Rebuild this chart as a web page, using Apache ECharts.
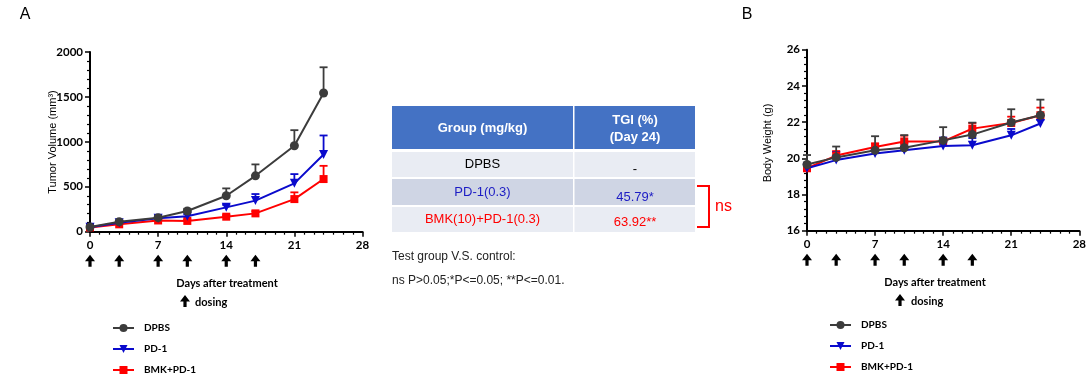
<!DOCTYPE html>
<html>
<head>
<meta charset="utf-8">
<script src="https://cdn.jsdelivr.net/npm/echarts@6/dist/echarts.min.js"></script>
<style>
html,body{margin:0;padding:0;background:#fff;}
#chart{width:1089px;height:383px;}
</style>
</head>
<body>
<div id="chart"></div>
<script>
// ---------- data ----------
const days = [0, 3, 7, 10, 14, 17, 21, 24];
const dosingDays = [0, 3, 7, 10, 14, 17];
const seriesNames = ['DPBS', 'PD-1', 'BMK+PD-1'];

// Tumor volume (mm^3): mean and upper end of error bar
const tvDPBS = [52, 111, 156, 230, 400, 622, 956, 1544];
const tvDPBSUpper = [70, 125, 175, 255, 482, 749, 1130, 1830];
const tvPD1 = [50, 100, 149, 172, 271, 346, 538, 860];
const tvPD1Upper = [62, 112, 165, 195, 298, 419, 641, 1071];
const tvBMK = [48, 82, 125, 120, 167, 204, 363, 586];
const tvBMKUpper = [58, 92, 138, 135, 185, 228, 438, 733];

// Body weight (g)
const bwDPBS = [19.66, 20.05, 20.44, 20.58, 20.99, 21.31, 21.98, 22.38];
const bwDPBSUpper = [20.18, 20.65, 21.22, 21.28, 21.72, 21.97, 22.71, 23.24];
const bwPD1 = [19.45, 19.9, 20.26, 20.45, 20.68, 20.72, 21.27, 21.92];
const bwPD1Upper = [19.75, 20.35, 20.55, 20.85, 21.15, 21.12, 21.62, 22.12];
const bwBMK = [19.45, 20.15, 20.62, 20.93, 20.93, 21.64, 21.95, 22.38];
const bwBMKUpper = [19.62, 20.4, 20.83, 21.25, 21.1, 21.95, 22.3, 22.8];

// Table
const tableHeader = ['Group (mg/kg)', 'TGI (%)\n(Day 24)'];
const tableGroups = ['DPBS', 'PD-1(0.3)', 'BMK(10)+PD-1(0.3)'];
const tableTGI = ['-', '45.79*', '63.92**'];
const footnotes = ['Test group V.S. control:', 'ns P>0.05;*P<=0.05; **P<=0.01.'];

// ---------- styles ----------
const colors = {'DPBS': '#3c3c3c', 'PD-1': '#0a0acc', 'BMK+PD-1': '#ff0000'};
const symbols = {'DPBS': 'circle', 'PD-1': 'triangle', 'BMK+PD-1': 'rect'};
const symbolRot = {'DPBS': 0, 'PD-1': 180, 'BMK+PD-1': 0};
const symbolSizes = {'DPBS': 9, 'PD-1': 9, 'BMK+PD-1': 8};
const zOrder = {'DPBS': 5, 'PD-1': 4, 'BMK+PD-1': 3};
const tickFont = 'Lato';

function pairs(xs, ys) { return xs.map((x, i) => [x, ys[i]]); }
function errData(xs, mean, up) { return xs.map((x, i) => [x, mean[i], up[i]]); }

function lineSeries(name, idx, vals) {
  return {
    type: 'line', name: name, xAxisIndex: idx, yAxisIndex: idx,
    data: pairs(days, vals),
    symbol: symbols[name], symbolRotate: symbolRot[name], symbolSize: symbolSizes[name],
    showAllSymbol: true,
    lineStyle: {color: colors[name], width: 2},
    itemStyle: {color: colors[name]},
    color: colors[name],
    z: zOrder[name], animation: false, clip: false
  };
}

function errSeries(name, idx, mean, up) {
  return {
    type: 'custom', name: name + ' error', xAxisIndex: idx, yAxisIndex: idx,
    data: errData(days, mean, up), z: zOrder[name] - 1, animation: false, silent: true,
    itemStyle: {color: colors[name]},
    renderItem: function (params, api) {
      const p1 = api.coord([api.value(0), api.value(1)]);
      const p2 = api.coord([api.value(0), api.value(2)]);
      const st = {stroke: colors[name], lineWidth: 1.8};
      return {type: 'group', children: [
        {type: 'line', shape: {x1: p1[0], y1: p1[1], x2: p2[0], y2: p2[1]}, style: st},
        {type: 'line', shape: {x1: p2[0] - 4, y1: p2[1], x2: p2[0] + 4, y2: p2[1]}, style: st}
      ]};
    }
  };
}

function arrowShape(cx, top) {
  return [[cx, top], [cx + 5, top + 6.5], [cx + 1.6, top + 6.5], [cx + 1.6, top + 12],
          [cx - 1.6, top + 12], [cx - 1.6, top + 6.5], [cx - 5, top + 6.5]];
}

function arrowSeries(idx, ymin) {
  return {
    type: 'custom', xAxisIndex: idx, yAxisIndex: idx, clip: false, animation: false, silent: true,
    data: dosingDays.map(d => [d, ymin]),
    renderItem: function (params, api) {
      const p = api.coord([api.value(0), api.value(1)]);
      return {type: 'polygon', shape: {points: arrowShape(p[0], p[1] + 23)}, style: {fill: '#000'}};
    }
  };
}

function xAxisDef(idx) {
  return {
    gridIndex: idx, type: 'value', min: 0, max: 28, interval: 7,
    axisLine: {show: true, onZero: false, lineStyle: {color: '#000', width: 2}},
    axisTick: {show: true, length: 5, lineStyle: {color: '#000', width: 1.5}},
    minorTick: {show: true, splitNumber: 7, length: 3, lineStyle: {color: '#000', width: 1.2}},
    splitLine: {show: false}, minorSplitLine: {show: false},
    axisLabel: {color: '#000', fontFamily: tickFont, fontWeight: 'bold', fontSize: 11.5, margin: 8,
      formatter: v => String(v)}
  };
}

function yAxisDef(idx, min, max, interval) {
  return {
    gridIndex: idx, type: 'value', min: min, max: max, interval: interval,
    axisLine: {show: true, onZero: false, lineStyle: {color: '#000', width: 2}},
    axisTick: {show: true, length: 5, lineStyle: {color: '#000', width: 1.5}},
    minorTick: {show: true, splitNumber: 5, length: 3, lineStyle: {color: '#000', width: 1.2}},
    splitLine: {show: false}, minorSplitLine: {show: false},
    axisLabel: {color: '#000', fontFamily: tickFont, fontWeight: 'bold', fontSize: 11.5, margin: 7,
      formatter: v => String(v)}
  };
}

function legendDef(left, top) {
  return {
    orient: 'vertical', left: left, top: top, data: seriesNames, padding: 0,
    itemWidth: 21, itemHeight: 10, itemGap: 11, selectedMode: false,
    textStyle: {fontFamily: tickFont, fontWeight: 'bold', fontSize: 10, color: '#000', padding: [0, 0, 0, 5]}
  };
}

// ---------- table graphics ----------
const tbl = {x: 392, col: 573, right: 695, hTop: 106, hBot: 149,
  rows: [[152, 177], [179, 205], [207, 232]]};
const rowFill = ['#e9ecf3', '#cfd5e4', '#e9ecf3'];
const rowColor = ['#000', '#1c1cc4', '#ff0000'];
const tgiDy = [5, 5, 3];

const graphics = [
  {type: 'text', x: 25, y: 15, style: {text: 'A', fontSize: 16, fontFamily: 'Liberation Sans', fill: '#000', align: 'center', verticalAlign: 'middle'}},
  {type: 'text', x: 747, y: 15, style: {text: 'B', fontSize: 16, fontFamily: 'Liberation Sans', fill: '#000', align: 'center', verticalAlign: 'middle'}},
  {type: 'text', x: 53, y: 142, rotation: Math.PI / 2, style: {text: 'Tumor Volume (mm³)', fontSize: 11, fontFamily: 'Liberation Sans', fill: '#000', align: 'center', verticalAlign: 'middle'}},
  {type: 'text', x: 768, y: 143, rotation: Math.PI / 2, style: {text: 'Body Weight (g)', fontSize: 11, fontFamily: 'Liberation Sans', fill: '#000', align: 'center', verticalAlign: 'middle'}},
  {type: 'text', x: 227, y: 283, style: {text: 'Days after treatment', fontSize: 11, fontFamily: tickFont, fontWeight: 'bold', fill: '#000', align: 'center', verticalAlign: 'middle'}},
  {type: 'text', x: 935, y: 282, style: {text: 'Days after treatment', fontSize: 11, fontFamily: tickFont, fontWeight: 'bold', fill: '#000', align: 'center', verticalAlign: 'middle'}},
  {type: 'polygon', shape: {points: arrowShape(185, 295)}, style: {fill: '#000'}},
  {type: 'text', x: 195, y: 302, style: {text: 'dosing', fontSize: 11, fontFamily: tickFont, fontWeight: 'bold', fill: '#000', align: 'left', verticalAlign: 'middle'}},
  {type: 'polygon', shape: {points: arrowShape(900, 294)}, style: {fill: '#000'}},
  {type: 'text', x: 911, y: 301, style: {text: 'dosing', fontSize: 11, fontFamily: tickFont, fontWeight: 'bold', fill: '#000', align: 'left', verticalAlign: 'middle'}},
  // table header
  {type: 'rect', shape: {x: tbl.x, y: tbl.hTop, width: tbl.col - tbl.x, height: tbl.hBot - tbl.hTop}, style: {fill: '#4472c4'}},
  {type: 'rect', shape: {x: tbl.col + 1.5, y: tbl.hTop, width: tbl.right - tbl.col - 1.5, height: tbl.hBot - tbl.hTop}, style: {fill: '#4472c4'}},
  {type: 'text', x: (tbl.x + tbl.col) / 2, y: 128, style: {text: tableHeader[0], fontSize: 13, fontWeight: 'bold', fontFamily: 'Liberation Sans', fill: '#fff', align: 'center', verticalAlign: 'middle'}},
  {type: 'text', x: (tbl.col + tbl.right) / 2 + 1, y: 129, style: {text: tableHeader[1], fontSize: 13, lineHeight: 17, fontWeight: 'bold', fontFamily: 'Liberation Sans', fill: '#fff', align: 'center', verticalAlign: 'middle'}},
  // footnotes
  {type: 'text', x: 392, y: 257, style: {text: footnotes[0], fontSize: 12, fontFamily: 'Liberation Sans', fill: '#222', align: 'left', verticalAlign: 'middle'}},
  {type: 'text', x: 392, y: 281, style: {text: footnotes[1], fontSize: 12, fontFamily: 'Liberation Sans', fill: '#222', align: 'left', verticalAlign: 'middle'}},
  // ns bracket
  {type: 'polyline', shape: {points: [[697, 186], [709, 186], [709, 227], [697, 227]]}, style: {stroke: '#ff0000', lineWidth: 2, fill: null}},
  {type: 'text', x: 715, y: 207, style: {text: 'ns', fontSize: 16, fontFamily: 'Liberation Sans', fill: '#ff0000', align: 'left', verticalAlign: 'middle'}}
];
tableGroups.forEach((g, i) => {
  const r = tbl.rows[i];
  graphics.push({type: 'rect', shape: {x: tbl.x, y: r[0], width: tbl.col - tbl.x, height: r[1] - r[0]}, style: {fill: rowFill[i]}});
  graphics.push({type: 'rect', shape: {x: tbl.col + 1.5, y: r[0], width: tbl.right - tbl.col - 1.5, height: r[1] - r[0]}, style: {fill: rowFill[i]}});
  graphics.push({type: 'text', x: (tbl.x + tbl.col) / 2, y: (r[0] + r[1]) / 2, style: {text: g, fontSize: 13, fontFamily: 'Liberation Sans', fill: rowColor[i], align: 'center', verticalAlign: 'middle'}});
  graphics.push({type: 'text', x: (tbl.col + tbl.right) / 2 + 1, y: (r[0] + r[1]) / 2 + tgiDy[i], style: {text: tableTGI[i], fontSize: 13, fontFamily: 'Liberation Sans', fill: rowColor[i], align: 'center', verticalAlign: 'middle'}});
});

const chart = echarts.init(document.getElementById('chart'), null, {renderer: 'canvas'});
chart.setOption({
  backgroundColor: '#fff',
  animation: false,
  grid: [
    {left: 90, top: 52, width: 272.5, height: 179.7},
    {left: 807, top: 49.7, width: 272.3, height: 181}
  ],
  xAxis: [xAxisDef(0), xAxisDef(1)],
  yAxis: [yAxisDef(0, 0, 2000, 500), yAxisDef(1, 16, 26, 2)],
  legend: [legendDef(112, 323), legendDef(829, 320)],
  series: [
    errSeries('BMK+PD-1', 0, tvBMK, tvBMKUpper),
    errSeries('PD-1', 0, tvPD1, tvPD1Upper),
    errSeries('DPBS', 0, tvDPBS, tvDPBSUpper),
    lineSeries('DPBS', 0, tvDPBS),
    lineSeries('PD-1', 0, tvPD1),
    lineSeries('BMK+PD-1', 0, tvBMK),
    errSeries('BMK+PD-1', 1, bwBMK, bwBMKUpper),
    errSeries('PD-1', 1, bwPD1, bwPD1Upper),
    errSeries('DPBS', 1, bwDPBS, bwDPBSUpper),
    lineSeries('DPBS', 1, bwDPBS),
    lineSeries('PD-1', 1, bwPD1),
    lineSeries('BMK+PD-1', 1, bwBMK),
    arrowSeries(0, 0),
    arrowSeries(1, 16)
  ],
  graphic: graphics
});
</script>
</body>
</html>
